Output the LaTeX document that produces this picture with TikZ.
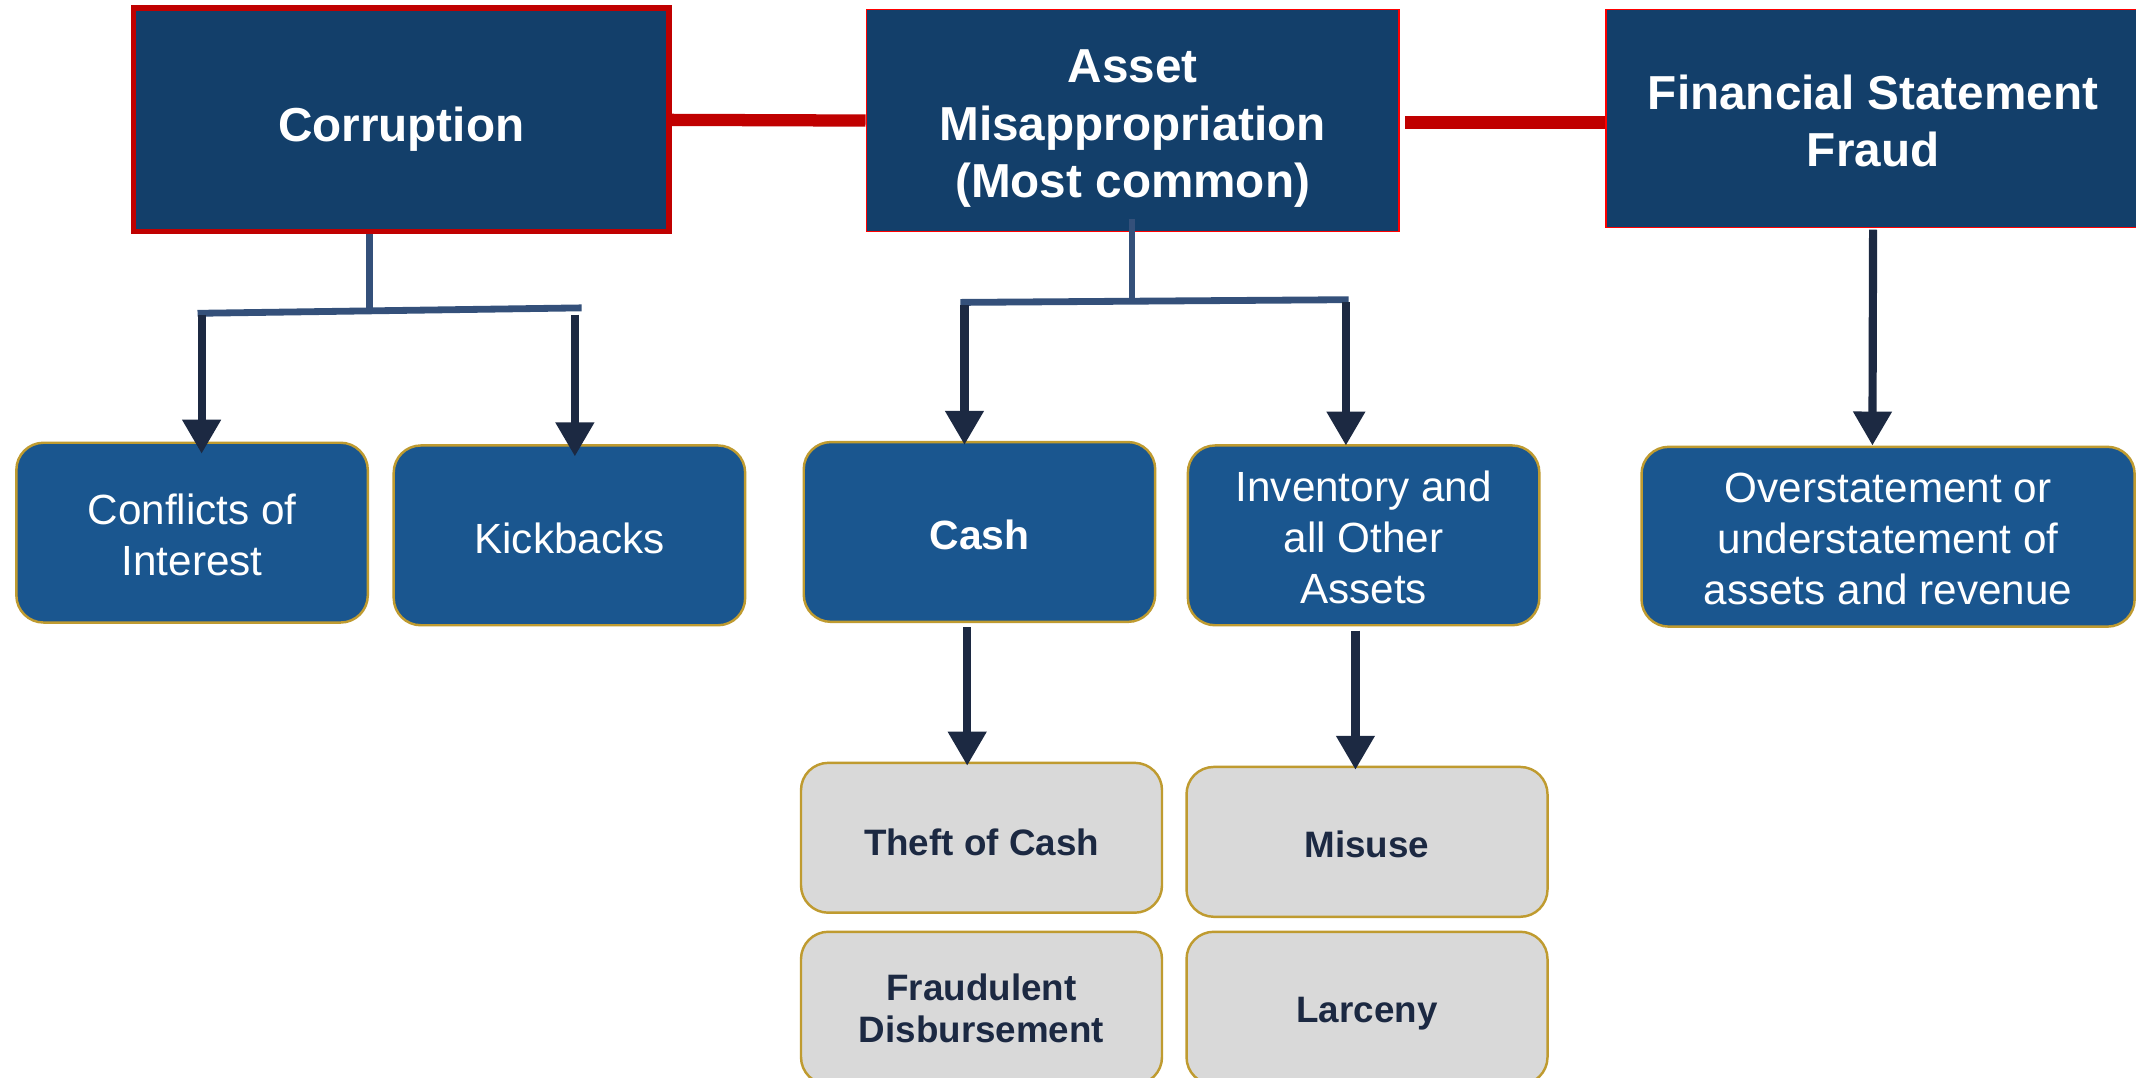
\documentclass[tikz,border=0pt]{standalone}
\usepackage{fontspec}
\setmainfont{Liberation Sans}
\usetikzlibrary{arrows.meta,calc}

\definecolor{topfill}{HTML}{133F6A}
\definecolor{midfill}{HTML}{1A568F}
\definecolor{lowfill}{HTML}{D9D9D9}
\definecolor{gold}{HTML}{BF9B30}
\definecolor{darkred}{HTML}{C00000}
\definecolor{brightred}{HTML}{FF0000}
\definecolor{stemblue}{HTML}{34507A}
\definecolor{navy}{HTML}{1C2942}

% lower (or raise) a label without changing the space it takes
\newcommand{\lowerby}[2]{\raisebox{-#1}[\height][\depth]{#2}}

\tikzset{
  topbox/.style={draw=brightred, line width=1.3pt, fill=topfill, text=white,
    font=\fontsize{35}{42}\selectfont\bfseries, align=center, inner sep=0pt},
  midbox/.style={draw=gold, line width=1.8pt, fill=midfill, rounded corners=20pt,
    text=white, font=\fontsize{31}{37.5}\selectfont, align=center, inner sep=0pt,
    minimum width=258pt, minimum height=132pt},
  lowbox/.style={draw=gold, line width=1.8pt, fill=lowfill, rounded corners=20pt,
    text=navy, font=\fontsize{27}{31}\selectfont\bfseries, align=center, inner sep=0pt,
    minimum width=265pt, minimum height=110pt},
  redlink/.style={draw=darkred, line width=9pt},
  branch/.style={draw=stemblue, line width=5pt},
  arr/.style={draw=navy, line width=6pt, -{Triangle[width=27pt,length=25pt]}},
}

\begin{document}
\begin{tikzpicture}[x=1pt,y=-1pt]
  \useasboundingbox (0,0) rectangle (1568,791);
  \fill[white] (0,0) rectangle (1568,791);
  \clip (0,0) rectangle (1568,791);

  % the three fraud categories
  \node[topbox, line width=4pt, draw=darkred, minimum width=393pt, minimum height=164pt]
    (corr) at (294.5,88) {\lowerby{7pt}{Corruption}};
  \node[topbox, minimum width=391pt, minimum height=163pt]
    (asset) at (831.5,88.5) {\lowerby{6pt}{\parbox{380pt}{\centering Asset\\Misappropriation\\(Most common)}}};
  \node[topbox, minimum width=401pt, minimum height=160pt]
    (fin) at (1379.5,87) {\kern-4.5pt\lowerby{2pt}{\parbox{390pt}{\centering Financial Statement\\Fraud}}\kern4.5pt};

  % second level
  \node[midbox] (conf) at (141,391) {\lowerby{1.5pt}{\parbox{250pt}{\centering Conflicts of\\Interest}}};
  \node[midbox] (kick) at (418,393) {\lowerby{2pt}{Kickbacks}};
  \node[midbox, font=\fontsize{30}{36}\selectfont\bfseries] (cash) at (719,390.5) {\lowerby{2pt}{Cash}};
  \node[midbox] (inv) at (1001,393) {\lowerby{1.5pt}{\parbox{250pt}{\centering Inventory and\\all Other\\Assets}}};
  \node[midbox, minimum width=362pt] (over) at (1386,394) {\lowerby{1.5pt}{\parbox{355pt}{\centering Overstatement or\\understatement of\\assets and revenue}}};

  % third level
  \node[lowbox] (theft) at (720.5,615) {\lowerby{3pt}{Theft of Cash}};
  \node[lowbox, minimum height=112pt] (fraud) at (720.5,740) {Fraudulent\\Disbursement};
  \node[lowbox] (misuse) at (1003.5,618) {\lowerby{2pt}{Misuse}};
  \node[lowbox, minimum height=112pt] (larc) at (1003.5,740) {\lowerby{4pt}{Larceny}};

  % red links between the categories
  \draw[redlink] (corr.east) -- (asset.west);
  \draw[redlink, shorten <=4pt] ($(asset.east)+(0,1.5)$) -- ($(fin.west)+(0,3)$);

  % corruption branches
  \coordinate (cbL) at (145,230);
  \coordinate (cbR) at (427,226);
  \coordinate (cbM) at (271,228.2);
  \draw[branch] ($(corr.south)+(-23.5,0)$) -- (cbM);
  \draw[branch] (cbL) -- (cbR);
  \draw[arr] ($(cbL)+(3,1)$) -- ($(conf.north)+(7,9)$);
  \draw[arr] ($(cbR)+(-5,5)$) -- ($(kick.north)+(4,9)$);

  % asset misappropriation branches
  \coordinate (abL) at (705,222);
  \coordinate (abR) at (990,220);
  \coordinate (abM) at (831,221);
  \draw[branch] ($(asset.south)+(-0.5,-10)$) -- (abM);
  \draw[branch] (abL) -- (abR);
  \draw[arr] ($(abL)+(3,2)$) -- ($(cash.north)+(-11,3)$);
  \draw[arr] ($(abR)+(-2,2)$) -- ($(inv.north)+(-13,1)$);

  % financial statement fraud branch
  \draw[arr] ($(fin.south)+(-4.5,1)$) -- ($(over.north)+(-11.5,0)$);

  % cash and inventory details
  \draw[arr] ($(cash.south)+(-9,3)$) -- ($(theft.north)+(-10.5,3)$);
  \draw[arr] ($(inv.south)+(-6,3)$) -- ($(misuse.north)+(-8.5,3)$);
\end{tikzpicture}
\end{document}
